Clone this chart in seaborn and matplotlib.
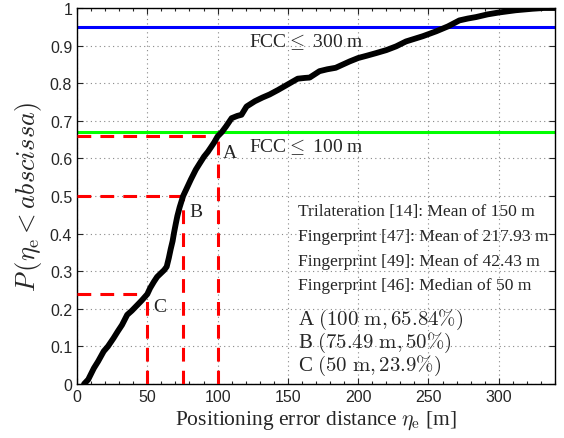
import numpy as np
import pandas as pd
import matplotlib
matplotlib.use("Agg")
import matplotlib.pyplot as plt
import seaborn as sns
from matplotlib.ticker import MultipleLocator, FuncFormatter

# CDF of positioning error
err_m = [5, 8, 12, 15, 19, 22, 26, 29, 32, 35.7, 39, 42.9, 46, 50, 52, 54.7, 57, 59.5, 62, 63.8,
         65.3, 66.6, 68, 69, 70.2, 71.4, 73, 75.49, 78, 81, 84.5, 87, 90.4, 93, 95, 97.5, 100,
         103, 106, 110, 114, 117, 120.6, 126.5, 132, 137, 143, 150, 157, 162, 165.5, 172.5,
         178, 184, 194, 200, 206, 212.7, 220, 227, 234, 240, 246, 255.5, 263.8, 272, 278,
         284, 292, 300, 312, 324, 332, 340]
cdf = [0.0, 0.012, 0.042, 0.06, 0.087, 0.1, 0.122, 0.14, 0.157, 0.184, 0.195, 0.21, 0.222, 0.239,
       0.255, 0.272, 0.285, 0.294, 0.303, 0.312, 0.335, 0.358, 0.38, 0.402, 0.425, 0.447, 0.47,
       0.50, 0.52, 0.544, 0.57, 0.585, 0.605, 0.617, 0.628, 0.642, 0.6584,
       0.67, 0.685, 0.707, 0.713, 0.716, 0.738, 0.752, 0.762, 0.770, 0.782, 0.797, 0.812,
       0.814, 0.815, 0.832, 0.837, 0.841, 0.858, 0.867, 0.873, 0.880, 0.888, 0.898, 0.911,
       0.918, 0.925, 0.938, 0.951, 0.967, 0.972, 0.976, 0.983, 0.988, 0.994, 0.998, 1.0, 1.0]

fcc_levels = [0.95, 0.67]
fcc_labels = ["FCC$\\leq$ 300 m", "FCC$\\leq$ 100 m"]
fcc_colors = ["#0000ff", "#00ff00"]

point_names = ["A", "B", "C"]
point_x = [100, 75.49, 50]
point_y = [0.6584, 0.50, 0.239]

info_lines = ["Trilateration [14]: Mean of 150 m",
              "Fingerprint [47]: Mean of 217.93 m",
              "Fingerprint [49]: Mean of 42.43 m",
              "Fingerprint [46]: Median of 50 m"]
point_lines = ["A $(100\\ \\mathrm{m}, 65.84\\%)$",
               "B $(75.49\\ \\mathrm{m}, 50\\%)$",
               "C $(50\\ \\mathrm{m}, 23.9\\%)$"]

sns.set_style("ticks")
plt.rcParams["mathtext.fontset"] = "cm"
serif = ["Liberation Serif", "DejaVu Serif"]
sans = ["Liberation Sans", "DejaVu Sans"]

fig = plt.figure(figsize=(5.64, 4.39), dpi=100)
ax = fig.add_axes([77/564, 1 - 385/439, (555-77)/564, (385-9)/439])

df = pd.DataFrame({"err": err_m, "cdf": cdf})

for lvl, c in zip(fcc_levels, fcc_colors):
    ax.axhline(lvl, color=c, lw=2.2, zorder=2)

for px, py in zip(point_x, point_y):
    ax.plot([0, px], [py, py], color="#ff0000", lw=2.2, ls=(0, (4.5, 3)), zorder=3)
    ax.plot([px, px], [0, py], color="#ff0000", lw=2.2, ls=(0, (4.5, 3)), zorder=3)

sns.lineplot(data=df, x="err", y="cdf", color="black", lw=4.2, ax=ax, zorder=4, estimator=None)

ax.set_xlim(0, 340)
ax.set_ylim(0, 1)
ax.xaxis.set_major_locator(MultipleLocator(50))
ax.xaxis.set_minor_locator(MultipleLocator(10))
ax.yaxis.set_major_locator(MultipleLocator(0.1))
ax.yaxis.set_major_formatter(FuncFormatter(lambda v, p: f"{v:g}"))
ax.grid(True, which="major", color="#888888", ls=(0, (1, 3)), lw=0.8)
ax.tick_params(which="both", direction="in", top=True, right=True, labelsize=11.5,
               length=4, width=0.8)
ax.tick_params(which="minor", length=2)
for lab in ax.get_xticklabels() + ax.get_yticklabels():
    lab.set_family(sans)
for s in ax.spines.values():
    s.set_linewidth(1.0)
    s.set_color("black")

ax.set_xlabel("Positioning error distance $\\eta_\\mathrm{e}$ [m]", fontsize=15.5, family=serif, labelpad=3)
ax.set_ylabel("$P\\,(\\eta_\\mathrm{e} < abscissa)$", fontsize=19, labelpad=4)

ax.text(122, 0.912, fcc_labels[0], fontsize=14, family=serif, va="center")
ax.text(122, 0.632, fcc_labels[1], fontsize=14, family=serif, va="center")

label_pos = [(104, 0.617), (80, 0.46), (54, 0.205)]
for n, (tx, ty) in zip(point_names, label_pos):
    ax.text(tx, ty, n, fontsize=14, family=serif, va="center")

for i, t in enumerate(info_lines):
    ax.text(157, 0.46 - i * 0.066, t, fontsize=12.6, family=serif, va="center")
for i, t in enumerate(point_lines):
    ax.text(157, 0.174 - i * 0.061, t, fontsize=15, family=serif, va="center")

fig.savefig("out.png", dpi=100)
